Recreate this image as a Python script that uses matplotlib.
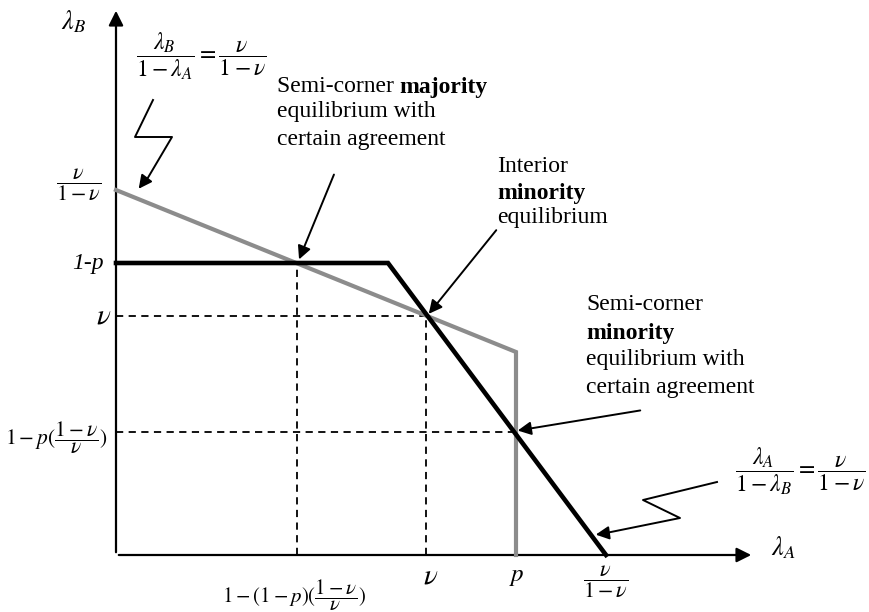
import matplotlib
matplotlib.use("Agg")
import matplotlib.pyplot as plt
from matplotlib.transforms import offset_copy

plt.rcParams['font.family'] = ['Liberation Serif', 'DejaVu Serif']
plt.rcParams['mathtext.fontset'] = 'stix'

# schematic values (diagram units, origin at axes crossing)
X_MAJ = 181      # 1-(1-p)(1-v)/v
X_KINK = 272
X_NU = 310       # v
X_P = 400        # p
X_END = 490      # v/(1-v)
Y_TOP = 365      # v/(1-v)
Y_ONE_P = 292    # 1-p
Y_NU = 239       # v
Y_MIN = 123      # 1-p(1-v)/v
Y_CORNER = 203

gray_x = [0, X_P, X_P]
gray_y = [Y_TOP, Y_CORNER, 0]
black_x = [0, X_KINK, X_END]
black_y = [Y_ONE_P, Y_ONE_P, 0]

fig = plt.figure(figsize=(8.7, 6.12), dpi=100)
ax = fig.add_axes([0, 0, 1, 1])
ax.set_xlim(-116, 754)
ax.set_ylim(-57, 555)
ax.axis('off')
rend = fig.canvas.get_renderer()

# axes with arrowheads
ax.annotate('', xy=(0, 547), xytext=(0, 0),
            arrowprops=dict(arrowstyle='-|>', color='black', lw=1.6, mutation_scale=22))
ax.annotate('', xy=(638, 0), xytext=(0, 0),
            arrowprops=dict(arrowstyle='-|>', color='black', lw=1.6, mutation_scale=22))

# dashed guides
dash = dict(color='black', lw=1.3, ls=(0, (4, 3)))
ax.plot([X_MAJ, X_MAJ], [0, Y_ONE_P], **dash)
ax.plot([X_NU, X_NU], [0, Y_NU], **dash)
ax.plot([0, X_NU], [Y_NU, Y_NU], **dash)
ax.plot([0, X_P], [Y_MIN, Y_MIN], **dash)

# best responses
ax.plot(gray_x, gray_y, color='#8c8c8c', lw=3.0, solid_joinstyle='miter', zorder=3)
ax.plot(black_x, black_y, color='black', lw=3.3, solid_joinstyle='miter', zorder=4)

fs = 17
ms = 16
# axis labels
ax.text(-42, 533, r'$\lambda_B$', fontsize=19, ha='center', va='center')
ax.text(667, 7, r'$\lambda_A$', fontsize=19, ha='center', va='center')

# y tick labels
ax.text(-37, 370, r'$\dfrac{\nu}{1-\nu}$', fontsize=ms, ha='center', va='center')
ax.text(-28, Y_ONE_P, '1-p', fontsize=fs, style='italic', ha='center', va='center')
ax.text(-12, Y_NU, r'$\nu$', fontsize=21, ha='center', va='center')
ax.text(-60, Y_MIN - 6, r'$1-p(\dfrac{1-\nu}{\nu})$', fontsize=15.5, ha='center', va='center')

# x tick labels
ax.text(X_MAJ - 3, -40, r'$1-(1-p)(\dfrac{1-\nu}{\nu})$', fontsize=15, ha='center', va='center')
ax.text(X_NU + 5, -22, r'$\nu$', fontsize=21, ha='center', va='center')
ax.text(X_P + 1, -22, r'$p$', fontsize=18, ha='center', va='center')
ax.text(X_END, -27, r'$\dfrac{\nu}{1-\nu}$', fontsize=ms, ha='center', va='center')

# equations
ax.text(85, 499, r'$\dfrac{\lambda_B}{1-\lambda_A}=\dfrac{\nu}{1-\nu}$', fontsize=17,
        ha='center', va='center')
ax.text(684, 84, r'$\dfrac{\lambda_A}{1-\lambda_B}=\dfrac{\nu}{1-\nu}$', fontsize=17,
        ha='center', va='center')

# zigzag pointers
ax.plot([37, 19, 56, 30], [455, 418, 418, 374], color='black', lw=1.4)
ax.annotate('', xy=(21, 364), xytext=(30, 376),
            arrowprops=dict(arrowstyle='-|>', color='black', lw=1.4, mutation_scale=20))
ax.plot([601, 527, 564, 490], [73, 55, 37, 22], color='black', lw=1.4)
ax.annotate('', xy=(477, 20), xytext=(492, 22),
            arrowprops=dict(arrowstyle='-|>', color='black', lw=1.4, mutation_scale=20))

# annotations
t = ax.text(161, 468, 'Semi-corner ', fontsize=fs, va='center')
w = t.get_window_extent(rend).width
ax.text(161, 468, 'majority', fontsize=fs, va='center', weight='bold',
        transform=offset_copy(ax.transData, fig=fig, x=w, y=0, units='dots'))
ax.text(161, 443, 'equilibrium with', fontsize=fs, va='center')
ax.text(161, 415, 'certain agreement', fontsize=fs, va='center')
ax.annotate('', xy=(X_MAJ + 1, Y_ONE_P + 1), xytext=(219, 383),
            arrowprops=dict(arrowstyle='-|>', color='black', lw=1.4, mutation_scale=20))

ax.text(381, 388, 'Interior', fontsize=fs, va='center')
ax.text(381, 362, 'minority', fontsize=fs, va='center', weight='bold')
ax.text(381, 337, 'equilibrium', fontsize=fs, va='center')
ax.annotate('', xy=(X_NU + 1, Y_NU), xytext=(382, 327),
            arrowprops=dict(arrowstyle='-|>', color='black', lw=1.4, mutation_scale=20))

ax.text(470, 250, 'Semi-corner', fontsize=fs, va='center')
ax.text(470, 222, 'minority', fontsize=fs, va='center', weight='bold')
ax.text(470, 195, 'equilibrium with', fontsize=fs, va='center')
ax.text(470, 167, 'certain agreement', fontsize=fs, va='center')
ax.annotate('', xy=(X_P - 1, Y_MIN + 1), xytext=(527, 145),
            arrowprops=dict(arrowstyle='-|>', color='black', lw=1.4, mutation_scale=20))

fig.savefig('out.png', dpi=100)
